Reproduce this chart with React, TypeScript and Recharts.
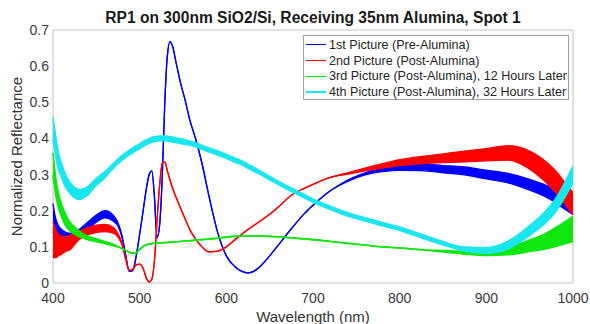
import { ComposedChart, Area, XAxis, YAxis, ReferenceArea } from 'recharts';

// wavelength samples (nm)
const wavelengths = [
  400, 403, 406, 410, 415, 420, 425, 430, 435, 440,
  450, 460, 470, 475, 480, 484, 488, 492, 496, 500,
  504, 508, 511, 514, 517, 520, 523, 526, 529, 532,
  535, 538, 542, 547, 552, 558, 565, 572, 580, 590,
  600, 610, 618, 625, 632, 640, 650, 660, 675, 690,
  700, 720, 740, 760, 780, 800, 825, 850, 875, 900,
  925, 950, 965, 980, 990, 1000,
];

// 1st picture (pre-alumina)
const prePicture = [
  0.18, 0.15, 0.135, 0.128, 0.125, 0.125, 0.13, 0.138, 0.148, 0.158,
  0.178, 0.19, 0.178, 0.162, 0.125, 0.075, 0.032, 0.035, 0.075, 0.135,
  0.2, 0.265, 0.3, 0.31, 0.24, 0.125, 0.16, 0.29, 0.5, 0.63,
  0.668, 0.655, 0.61, 0.555, 0.51, 0.45, 0.395, 0.33, 0.24, 0.14,
  0.075, 0.045, 0.032, 0.028, 0.033, 0.048, 0.075, 0.105, 0.15, 0.192,
  0.215, 0.255, 0.283, 0.302, 0.314, 0.32, 0.32, 0.315, 0.31, 0.3,
  0.29, 0.272, 0.258, 0.24, 0.225, 0.21,
];
const preSpread = [
  0.04, 0.03, 0.025, 0.02, 0.015, 0.012, 0.01, 0.01, 0.01, 0.01,
  0.01, 0.01, 0.008, 0.005, 0.003, 0, 0, 0, 0, 0,
  0, 0, 0, 0, 0, 0, 0, 0, 0, 0,
  0, 0, 0, 0, 0, 0, 0, 0, 0, 0,
  0, 0, 0, 0, 0, 0, 0, 0, 0, 0,
  0, 0, 0.002, 0.003, 0.006, 0.008, 0.009, 0.01, 0.011, 0.012,
  0.013, 0.015, 0.016, 0.018, 0.02, 0.02,
];

// 2nd picture (post-alumina)
const postPicture = [
  0.12, 0.11, 0.105, 0.105, 0.108, 0.113, 0.122, 0.132, 0.138, 0.143,
  0.15, 0.152, 0.145, 0.132, 0.105, 0.065, 0.035, 0.038, 0.05, 0.052,
  0.04, 0.012, 0.003, 0.01, 0.06, 0.17, 0.27, 0.33, 0.335, 0.31,
  0.285, 0.262, 0.237, 0.208, 0.18, 0.147, 0.12, 0.1, 0.086, 0.088,
  0.1, 0.12, 0.135, 0.148, 0.16, 0.173, 0.19, 0.21, 0.243, 0.262,
  0.273, 0.292, 0.303, 0.314, 0.324, 0.333, 0.34, 0.345, 0.35, 0.355,
  0.36, 0.34, 0.315, 0.28, 0.25, 0.22,
];
const postSpread = [
  0.05, 0.04, 0.03, 0.025, 0.02, 0.02, 0.015, 0.012, 0.01, 0.01,
  0.01, 0.01, 0.008, 0.005, 0.003, 0, 0, 0, 0, 0,
  0, 0, 0, 0, 0, 0, 0, 0, 0, 0,
  0, 0, 0, 0, 0, 0, 0, 0, 0, 0,
  0, 0, 0, 0, 0, 0, 0, 0, 0, 0,
  0, 0, 0.002, 0.004, 0.006, 0.008, 0.01, 0.012, 0.015, 0.017,
  0.02, 0.025, 0.028, 0.03, 0.03, 0.03,
];

// 3rd picture, 12 hours later
const hours12 = [
  0.33, 0.27, 0.23, 0.2, 0.172, 0.155, 0.145, 0.136, 0.13, 0.125,
  0.118, 0.112, 0.105, 0.1, 0.095, 0.09, 0.085, 0.082, 0.084, 0.093,
  0.101, 0.106, 0.108, 0.109, 0.11, 0.11, 0.111, 0.111, 0.112, 0.112,
  0.113, 0.113, 0.114, 0.115, 0.116, 0.117, 0.119, 0.12, 0.122, 0.124,
  0.127, 0.129, 0.13, 0.13, 0.13, 0.13, 0.129, 0.128, 0.125, 0.122,
  0.12, 0.115, 0.11, 0.105, 0.1, 0.097, 0.092, 0.088, 0.084, 0.082,
  0.088, 0.103, 0.113, 0.127, 0.138, 0.15,
];
const hours12Spread = [
  0.03, 0.025, 0.02, 0.018, 0.015, 0.012, 0.01, 0.008, 0.006, 0.005,
  0.004, 0.003, 0.002, 0, 0, 0, 0, 0, 0, 0,
  0, 0, 0, 0, 0, 0, 0, 0, 0, 0,
  0, 0, 0, 0, 0, 0, 0, 0, 0, 0,
  0, 0, 0, 0, 0, 0, 0, 0, 0, 0,
  0, 0, 0, 0, 0, 0, 0, 0.002, 0.004, 0.006,
  0.01, 0.016, 0.02, 0.026, 0.03, 0.035,
];

// 4th picture, 32 hours later
const hours32 = [
  0.43, 0.38, 0.34, 0.31, 0.28, 0.262, 0.25, 0.245, 0.248, 0.255,
  0.28, 0.3, 0.325, 0.337, 0.347, 0.354, 0.361, 0.367, 0.373, 0.378,
  0.385, 0.39, 0.393, 0.396, 0.398, 0.399, 0.4, 0.4, 0.4, 0.399,
  0.398, 0.397, 0.395, 0.393, 0.39, 0.387, 0.382, 0.375, 0.368, 0.36,
  0.35, 0.34, 0.332, 0.323, 0.314, 0.304, 0.29, 0.277, 0.258, 0.24,
  0.228, 0.208, 0.19, 0.176, 0.163, 0.15, 0.13, 0.11, 0.094, 0.09,
  0.105, 0.145, 0.175, 0.215, 0.255, 0.3,
];
const hours32Spread = [
  0.03, 0.03, 0.025, 0.02, 0.018, 0.016, 0.015, 0.014, 0.013, 0.012,
  0.01, 0.009, 0.007, 0.007, 0.007, 0.007, 0.007, 0.007, 0.007, 0.007,
  0.007, 0.007, 0.007, 0.007, 0.007, 0.007, 0.007, 0.007, 0.007, 0.007,
  0.007, 0.007, 0.007, 0.007, 0.007, 0.006, 0.006, 0.006, 0.006, 0.006,
  0.006, 0.006, 0.006, 0.006, 0.006, 0.005, 0.005, 0.005, 0.005, 0.005,
  0.005, 0.005, 0.005, 0.005, 0.005, 0.005, 0.005, 0.005, 0.006, 0.008,
  0.011, 0.014, 0.016, 0.019, 0.021, 0.024,
];

const xTicks = [400, 500, 600, 700, 800, 900, 1000];
const yTicks = [0, 0.1, 0.2, 0.3, 0.4, 0.5, 0.6, 0.7];

const series = [
  { key: 'pre', name: '1st Picture (Pre-Alumina)', color: '#0000ff', values: prePicture, spread: preSpread, width: 1.3 },
  { key: 'post', name: '2nd Picture (Post-Alumina)', color: '#ff0000', values: postPicture, spread: postSpread, width: 1.3 },
  { key: 'h12', name: '3rd Picture (Post-Alumina), 12 Hours Later', color: '#11e611', values: hours12, spread: hours12Spread, width: 1.6 },
  { key: 'h32', name: '4th Picture (Post-Alumina), 32 Hours Later', color: '#1ae6ee', values: hours32, spread: hours32Spread, width: 1.3 },
];

const data = wavelengths.map((w, i) => {
  const row: Record<string, number | number[]> = { w };
  series.forEach((s) => {
    row[s.key] = [s.values[i] - s.spread[i], s.values[i] + s.spread[i]];
  });
  return row;
});

const FONT = '"Liberation Sans", Arial, sans-serif';
const tickStyle = { fontSize: 14, fill: '#3a3a3a', fontFamily: FONT };

export default function App() {
  return (
    <div style={{ position: 'absolute', left: 0, top: 0, width: 590, height: 324, background: '#fff', fontFamily: FONT }}>
      <div
        style={{
          position: 'absolute', left: 0, width: 626, top: 9, textAlign: 'center',
          fontSize: 15.6, lineHeight: '17px', fontWeight: 'bold', color: '#1a1a1a',
        }}
      >
        RP1 on 300nm SiO2/Si, Receiving 35nm Alumina, Spot 1
      </div>
      <ComposedChart width={590} height={324} data={data} margin={{ top: 30, right: 17, bottom: 5, left: 13 }}>
        <ReferenceArea x1={400} x2={1000} y1={0} y2={0.7} fill="none" stroke="#c4c4c4" strokeWidth={1} />
        <XAxis
          type="number"
          dataKey="w"
          domain={[400, 1000]}
          ticks={xTicks}
          height={36}
          axisLine={false}
          tickLine={false}
          tickMargin={4}
          tick={tickStyle}
          label={{ value: 'Wavelength (nm)', position: 'insideBottom', offset: -3, style: { fontSize: 15, fill: '#333', fontFamily: FONT } }}
        />
        <YAxis
          type="number"
          domain={[0, 0.7]}
          ticks={yTicks}
          width={40}
          allowDataOverflow
          axisLine={false}
          tickLine={false}
          tickSize={3}
          tickMargin={1}
          tick={tickStyle}
          label={{ value: 'Normalized Reflectance', angle: -90, position: 'insideLeft', offset: 4, style: { fontSize: 15, fill: '#333', fontFamily: FONT, textAnchor: 'middle' } }}
        />
        {series.map((s) => (
          <Area
            key={s.key}
            dataKey={s.key}
            name={s.name}
            type="monotone"
            stroke={s.color}
            strokeWidth={s.width}
            fill={s.color}
            fillOpacity={1}
            dot={false}
            activeDot={false}
            isAnimationActive={false}
          />
        ))}
      </ComposedChart>
      <div
        style={{
          position: 'absolute', left: 303, top: 35, width: 266, height: 65, boxSizing: 'border-box',
          border: '1px solid #a0a0a0', background: '#fff', paddingTop: 1,
        }}
      >
        {series.map((s) => (
          <div key={s.key} style={{ display: 'flex', alignItems: 'center', height: 15.7, fontSize: 12.6, color: '#262626', whiteSpace: 'nowrap' }}>
            <span style={{ display: 'inline-block', width: 20, height: 1.3, background: s.color, marginLeft: 2, marginRight: 3 }} />
            {s.name}
          </div>
        ))}
      </div>
    </div>
  );
}
